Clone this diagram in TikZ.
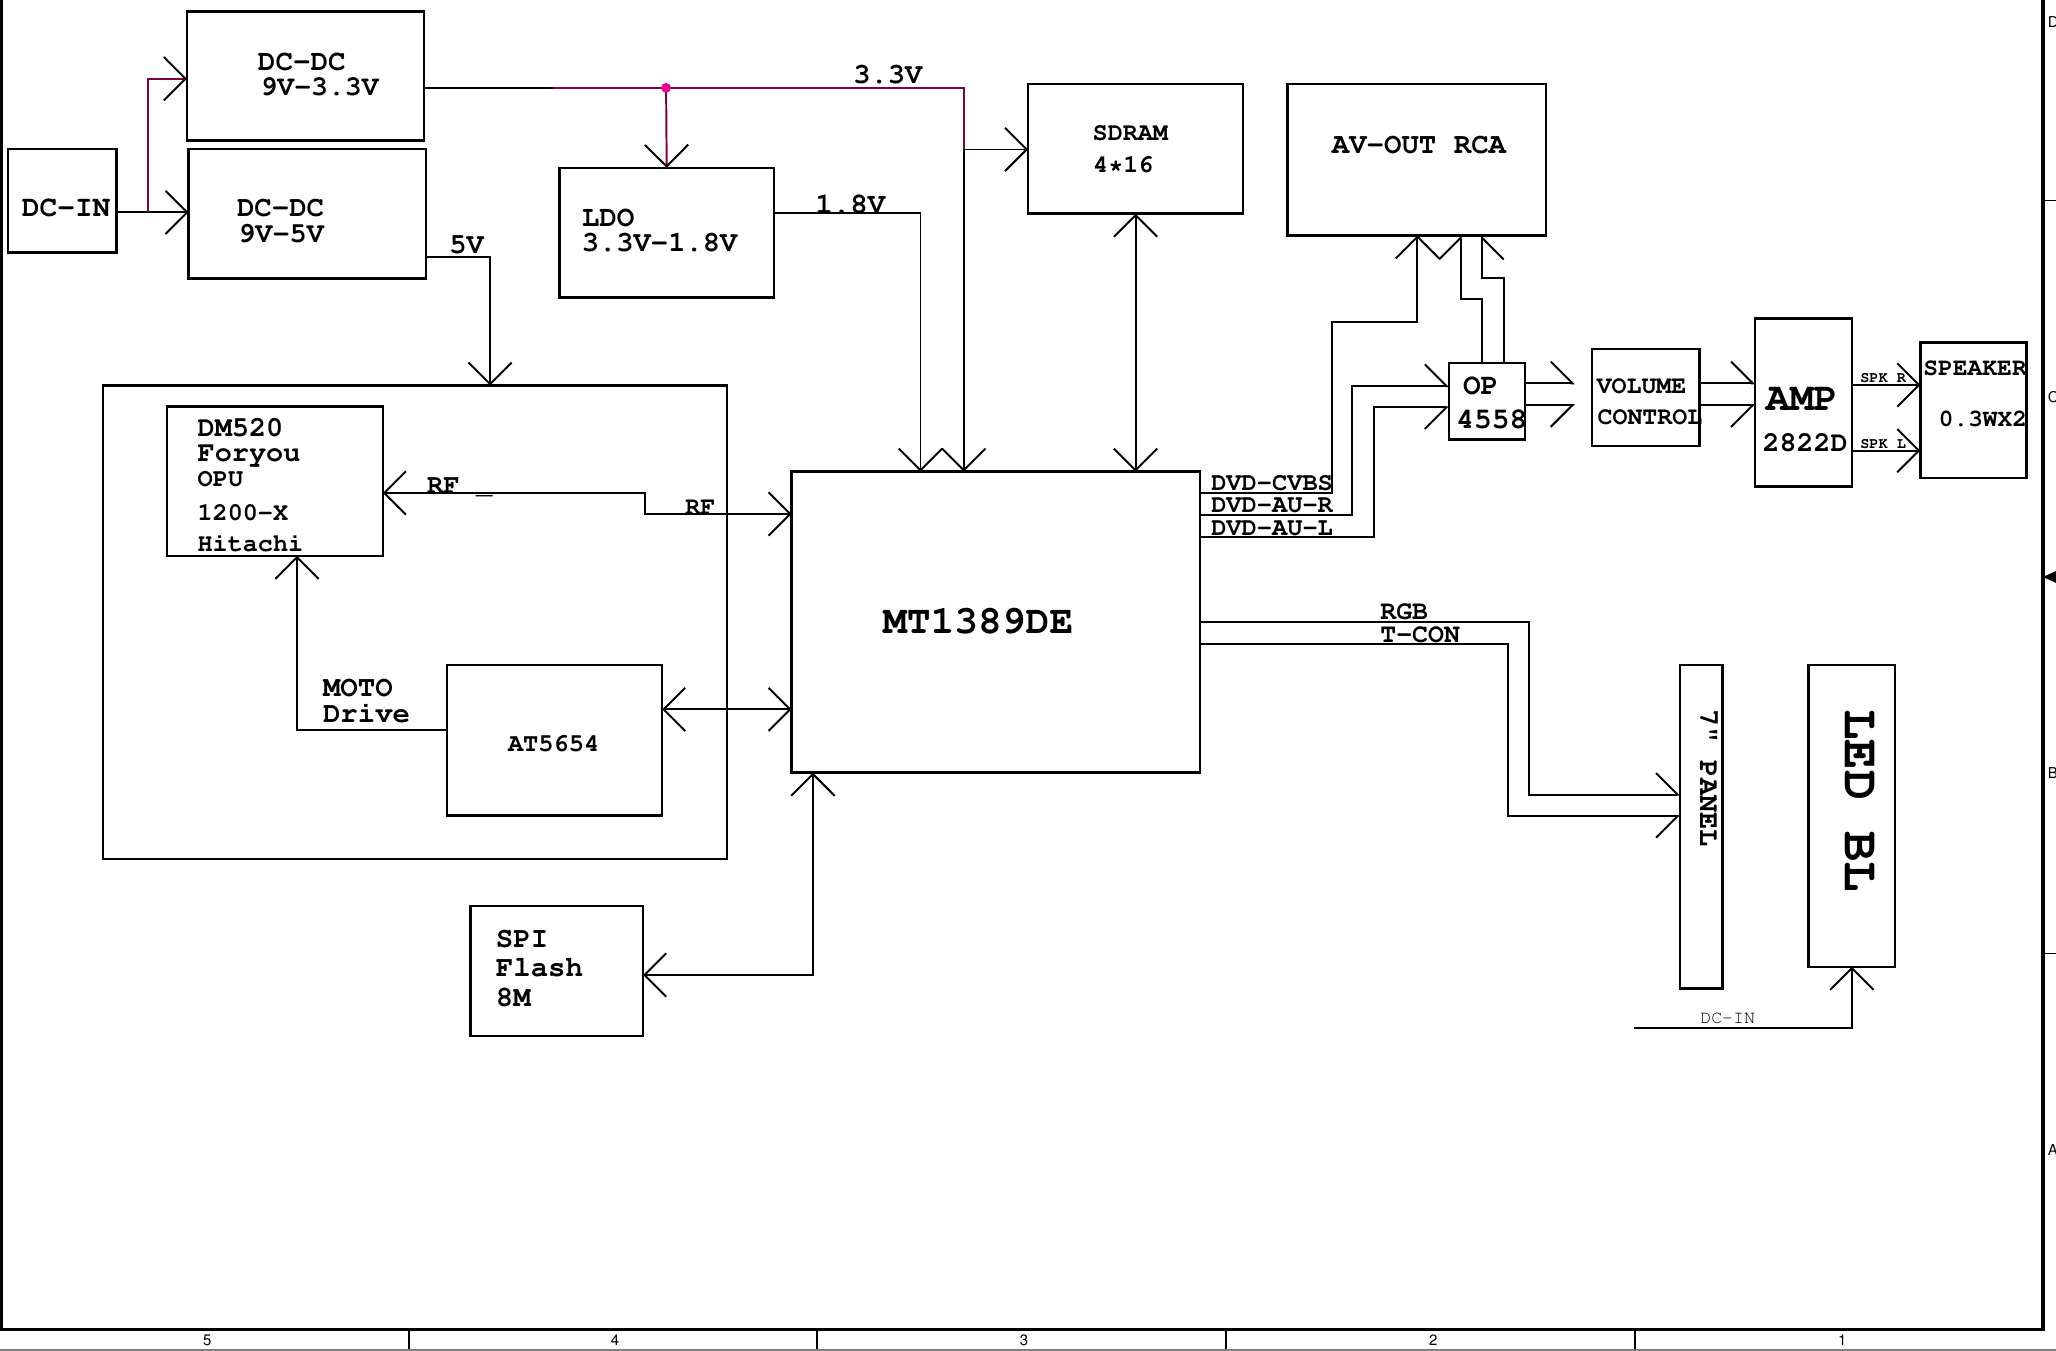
\documentclass[tikz,border=0pt]{standalone}
\usepackage[T1]{fontenc}
\usepackage{courier}
\renewcommand{\familydefault}{\ttdefault}
\usetikzlibrary{arrows.meta,fit}
\definecolor{railpurple}{RGB}{128,0,64}
\begin{document}
\begin{tikzpicture}[x=0.2mm,y=-0.2mm,line width=0.85pt,
  blk/.style={draw,line width=1.1pt,inner sep=0pt,outer sep=0pt},
  lbl/.style={font=\bfseries\fontsize{#1}{#1}\selectfont,inner sep=0pt,anchor=base west},
  lblr/.style={font=\fontsize{#1}{#1}\selectfont,inner sep=0pt,anchor=base west},
  arr/.style={-{Straight Barb[length=9.4pt,width=18.8pt]}},
  arrs/.style={{Straight Barb[length=9.4pt,width=18.8pt]}-{Straight Barb[length=9.4pt,width=18.8pt]}},
  arrl/.style={-{Straight Barb[length=9.4pt,width=18.8pt,left]}},
  arrr/.style={-{Straight Barb[length=9.4pt,width=18.8pt,right]}},
  rail/.style={draw=railpurple},
  railarr/.style={-{Straight Barb[length=9.4pt,width=18.8pt,color=black]}},
  zone/.style={font=\fontfamily{phv}\fontsize{6.5}{7}\selectfont,inner sep=0pt}]
\useasboundingbox (0,0) rectangle (1568,1030);
\draw[line width=1.4pt] (1,0) -- (1,1014) -- (1558,1014) -- (1558,0);
\draw[line width=0.6pt] (1558,153) -- (1568,153) (1558,727) -- (1568,727);
\fill (1558,440) -- (1568,435.5) -- (1568,444.5) -- cycle;
\draw[gray,line width=0.8pt] (0,1029.5) -- (1568,1029.5);
\foreach \x in {312,623,935,1247} \draw[line width=0.6pt] (\x,1015) -- (\x,1029);
\foreach \n/\x in {5/158,4/469,3/781,2/1093,1/1405} \node[zone] (zone\n) at (\x,1022) {\n};
\foreach \r/\y in {D/17,C/303,B/590,A/877} \node[zone,anchor=west] (row\r) at (1561,\y) {\r};

\node[blk,fit={(6,113.7) (88.8,192.7)}] (dcin) {};
\node[blk,fit={(142.5,8.9) (323.3,107.3)}] (dcdcA) {};
\node[blk,fit={(143.8,113.7) (325,212.3)}] (dcdcB) {};
\node[blk,fit={(426.5,128) (590.4,227)}] (ldo) {};
\node[blk,fit={(784,64) (948,163)}] (sdram) {};
\node[blk,fit={(982,64) (1179,179.5)}] (avout) {};
\node[blk,fit={(78.5,294) (554.6,655)}] (loader) {};
\node[blk,fit={(127.5,310) (292,424)}] (opu) {};
\node[blk,fit={(341,507) (505,622)}] (drv) {};
\node[blk,fit={(603.7,359.7) (915.3,589.3)}] (mt) {};
\node[blk,fit={(359,691) (490.5,790)}] (flash) {};
\node[blk,fit={(1105,277) (1163,335)}] (op) {};
\node[blk,fit={(1214,266) (1296,340)}] (vol) {};
\node[blk,fit={(1338.5,243) (1412.5,371)}] (amp) {};
\node[blk,fit={(1464.5,261.3) (1545.6,364.6)}] (spk) {};
\node[blk,fit={(1281.3,507) (1313.8,753.8)}] (panel) {};
\node[blk,fit={(1379.4,507) (1445.3,737.3)}] (ledbl) {};

\node[lbl=12.8] (tDcin) at (16,165) {DC-IN};
\node[lbl=12.7] (tDcdcA) at (196,53.4) {DC-DC};
\node[lbl=12.2] (tDcdcAv) at (198,73) {9V-3.3V};
\node[lbl=12.6] (tDcdcB) at (180,165) {DC-DC};
\node[lbl=12.4] (tDcdcBv) at (181,184.6) {9V-5V};
\node[lbl=12.5] (t33) at (650,63.5) {3.3V};
\node[lbl=12.5] (t5) at (342,193) {5V};
\node[lbl=12.7] (tLdo) at (443,173) {LDO};
\node[lbl=12.5] (tLdov) at (443,192) {3.3V-1.8V};
\node[lbl=12.7] (t18) at (621,162.5) {1.8V};
\node[lbl=10.9] (tSdram) at (832.6,107.5) {SDRAM};
\node[lbl=10.9] (tSdramv) at (833,131.4) {4*16};
\node[lbl=12.6] (tAvout) at (1015,117) {AV-OUT RCA};
\node[lbl=12.4] (tOpuA) at (150,333) {DM520};
\node[lbl=12.4] (tOpuB) at (150,352) {Foryou};
\node[lbl=11] (tOpuC) at (150,371) {OPU};
\node[lbl=10.9] (tOpuD) at (150,396.6) {1200-X};
\node[lbl=10.9] (tOpuE) at (150,420.7) {Hitachi};
\node[lbl=11.8] (tRfA) at (325,376) {RF \_};
\node[lbl=10.8] (tRfB) at (522,392) {RF};
\node[lbl=12.6] (tMoto) at (245.6,531) {MOTO};
\node[lbl=12.6] (tDrive) at (245.6,551) {Drive};
\node[lbl=11] (tDrv) at (386.7,573) {AT5654};
\node[lbl=17.2] (tMt) at (672.7,482.8) {MT1389DE};
\node[lbl=12.6] (tFlashA) at (377.5,722.5) {SPI};
\node[lbl=12.6] (tFlashB) at (377.5,745) {Flash};
\node[lbl=12.6] (tFlashC) at (377.5,767.7) {8M};
\node[lbl=11] (tCvbs) at (923,373.7) {DVD-CVBS};
\node[lbl=11] (tAuR) at (923,391) {DVD-AU-R};
\node[lbl=11] (tAuL) at (923,408.6) {DVD-AU-L};
\node[lbl=11.5] (tRgb) at (1052,472.5) {RGB};
\node[lbl=11.5] (tTcon) at (1052,490) {T-CON};
\node[lbl=12.8] (tOpA) at (1115,300.6) {OP};
\node[lbl=12.8] (tOpB) at (1110,326.5) {4558};
\node[lbl=10.8] (tVolA) at (1217,300) {VOLUME};
\node[lbl=10.8] (tVolB) at (1217.7,324) {CONTROL};
\node[lbl=17.3] (tAmpA) at (1346,313) {AMP};
\node[lbl=12.3] (tAmpB) at (1343.5,344.5) {2822D};
\node[lbl=6.6] (tSpkR) at (1418,292) {SPK R};
\node[lbl=6.6] (tSpkL) at (1418,342) {SPK L};
\node[lbl=10.7] (tSpkA) at (1466,286) {SPEAKER};
\node[lbl=10.6] (tSpkB) at (1478,325) {0.3WX2};
\node[lbl=12.4,rotate=-90] (tPanel) at (1296.5,540.3) {7" PANEL};
\node[lbl=22,rotate=-90] (tLed) at (1407,540.3) {LED BL};
\node[lblr=7.9] (tBlin) at (1296,780.5) {DC-IN};

\coordinate (split) at (113,162);
\coordinate (railA) at (422,67);
\coordinate (jn) at (508,67);
\coordinate (tap) at (735,114);
\coordinate (volinA) at (1201,292.3);
\coordinate (volinB) at (1201,309);
\coordinate (blin) at (1246.4,784.3);

\draw[arr] (dcin.east |- split) -- (dcdcB.west |- split);
\draw[rail,railarr] (split) |- (dcdcA.west |- 0,60);
\draw (dcdcA.east |- railA) -- (railA);
\draw[rail] (railA) -- (jn) -- (735,67) -- (tap);
\draw[rail,railarr] (jn) -- (ldo.north);
\fill[magenta] (jn) circle (0.75mm);
\draw[arr] (tap) -- (sdram.west |- tap);
\draw[arr] (tap) -- (mt.north -| tap);
\draw[arr] (dcdcB.east |- 0,196) -| (loader.north -| 373.7,0);
\draw[arr] (ldo.east |- 0,162.7) -| (mt.north -| 702,0);
\draw[arrs] (sdram.south) -- (sdram.south |- mt.north);
\draw[arrs] (opu.east |- 0,376) -- (492,376) -- (492,392) -- (mt.west |- 0,392);
\draw[arr] (drv.west |- 0,557) -| (opu.south -| 226.5,0);
\draw[arrs] (drv.east |- 0,541) -- (mt.west |- 0,541);
\draw[arrs] (flash.east |- 0,743.6) -| (mt.south -| 620,0);
\draw[arr] (mt.east |- 0,376.2) -| (1015.6,245.3) -| (avout.south -| 1081,0);
\draw[arrl] (mt.east |- 0,392.8) -| (1031.3,294.4) -- (op.west |- 0,294.4);
\draw[arrr] (mt.east |- 0,409.3) -| (1048,310.6) -- (op.west |- 0,310.6);
\draw[arrl] (op.north -| 1130.3,0) |- (1114,228) -- (avout.south -| 1114,0);
\draw[arrr] (op.north -| 1146.8,0) |- (1130.3,212) -- (avout.south -| 1130.3,0);
\draw[arrl] (op.east |- volinA) -- (volinA);
\draw[arrr] (op.east |- volinB) -- (volinB);
\draw[arrl] (vol.east |- volinA) -- (amp.west |- volinA);
\draw[arrr] (vol.east |- volinB) -- (amp.west |- volinB);
\draw[arr] (amp.east |- 0,293.6) -- (spk.west |- 0,293.6);
\draw[arr] (amp.east |- 0,343.7) -- (spk.west |- 0,343.7);
\draw[arrl] (mt.east |- 0,474.6) -| (1166,606) -- (panel.west |- 0,606);
\draw[arrr] (mt.east |- 0,491.2) -| (1150,622.4) -- (panel.west |- 0,622.4);
\draw[arr] (blin) -| (ledbl.south);
\end{tikzpicture}
\end{document}
